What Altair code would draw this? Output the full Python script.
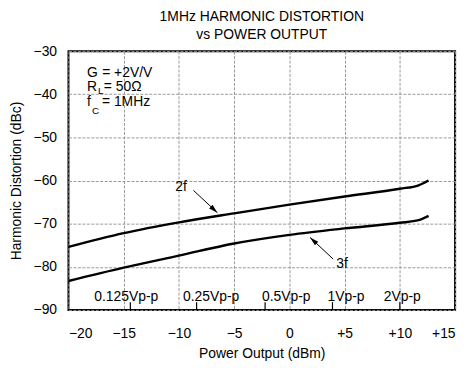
import altair as alt
import pandas as pd

# ---- data ----
power_dbm = [-20, -15, -10, -5, 0, 5, 10, 11.7, 12.6]
hd2_dbc = [-75.4, -72.2, -69.7, -67.6, -65.6, -63.7, -61.9, -61.1, -60.0]
hd3_dbc = [-83.3, -80.2, -77.4, -74.6, -72.6, -71.1, -69.8, -69.2, -68.2]

vpp_labels = ["0.125Vp-p", "0.25Vp-p", "0.5Vp-p", "1Vp-p", "2Vp-p"]
vpp_label_x = [-14.77, -7.09, -0.29, 5.13, 10.22]
vpp_tick_x = [-14.4, -8.4, -2.2, 3.9, 10.0]

x_ticks = [-20, -15, -10, -5, 0, 5, 10, 15]
y_ticks = [-30, -40, -50, -60, -70, -80, -90]

# annotation arrows: label, text pos, arrow start, arrow tip, head angle
ann_label = ["2f", "3f"]
ann_tx = [-9.81, 4.77]
ann_ty = [-61.5, -79.3]
arrow_x0 = [-8.69, 3.96]
arrow_y0 = [-62.27, -78.2]
arrow_x1 = [-6.52, 1.87]
arrow_y1 = [-67.45, -73.2]
arrow_angle = [132.9, 313.0]

# inset conditions text
inset_main = ["G", "= +2V/V", "R", "= 50Ω", "f", "= 1MHz"]
inset_main_x = [-18.32, -16.95, -18.32, -16.80, -18.32, -16.97]
inset_main_y = [-34.98, -34.98, -38.4, -38.4, -41.9, -41.9]
inset_sub = ["L", "C"]
inset_sub_x = [-17.33, -17.86]
inset_sub_y = [-39.3, -43.9]

FONT = "Liberation Sans"

curves = pd.DataFrame(
    {"x": power_dbm * 2,
     "y": hd2_dbc + hd3_dbc,
     "s": ["2f"] * len(power_dbm) + ["3f"] * len(power_dbm)}
)
vpp = pd.DataFrame({"label": vpp_labels, "lx": vpp_label_x, "tx": vpp_tick_x})
ann = pd.DataFrame({"label": ann_label, "tx": ann_tx, "ty": ann_ty,
                    "x0": arrow_x0, "y0": arrow_y0, "x1": arrow_x1,
                    "y1": arrow_y1, "ang": arrow_angle})
inset = pd.DataFrame({"t": inset_main, "x": inset_main_x, "y": inset_main_y})
inset_s = pd.DataFrame({"t": inset_sub, "x": inset_sub_x, "y": inset_sub_y})

xscale = alt.Scale(domain=[-20, 15], nice=False, zero=False)
yscale = alt.Scale(domain=[-90, -30], nice=False, zero=False)

xaxis = alt.Axis(
    values=x_ticks, title="Power Output (dBm)", grid=True, ticks=False,
    domain=False, labelPadding=17, titlePadding=6,
    labelExpr="datum.value > 0 ? '+' + datum.value : (datum.value < 0 ? '\u2212' + abs(datum.value) : '0')",
)
yaxis = alt.Axis(
    values=y_ticks, title="Harmonic Distortion (dBc)", grid=True, ticks=False,
    domain=False, labelPadding=12, titlePadding=10,
    labelExpr="'\u2212' + abs(datum.value)",
)

X = alt.X("x:Q", scale=xscale, axis=xaxis)
Y = alt.Y("y:Q", scale=yscale, axis=yaxis)

lines = alt.Chart(curves).mark_line(
    color="black", strokeWidth=2.4, interpolate="monotone"
).encode(x=X, y=Y, detail="s:N")

vpp_ticks = alt.Chart(vpp).mark_rule(color="black", strokeWidth=1.2).encode(
    x=alt.X("tx:Q", scale=xscale),
    y=alt.datum(-90), y2=alt.datum(-88.2),
)
vpp_text = alt.Chart(vpp).mark_text(
    font=FONT, fontSize=14, color="black", baseline="middle", align="center"
).encode(x=alt.X("lx:Q", scale=xscale), y=alt.datum(-87.0), text="label:N")

ann_text = alt.Chart(ann).mark_text(
    font=FONT, fontSize=14, color="black", baseline="middle", align="center"
).encode(x=alt.X("tx:Q", scale=xscale), y=alt.Y("ty:Q", scale=yscale), text="label:N")
ann_shaft = alt.Chart(ann).mark_rule(color="black", strokeWidth=1).encode(
    x=alt.X("x0:Q", scale=xscale), y=alt.Y("y0:Q", scale=yscale),
    x2="x1:Q", y2="y1:Q",
)
ann_head = alt.Chart(ann).mark_point(
    shape="M0,0L-0.5,1.8L0.5,1.8Z", filled=True, color="black", size=100, opacity=1
).encode(
    x=alt.X("x1:Q", scale=xscale), y=alt.Y("y1:Q", scale=yscale),
    angle=alt.Angle("ang:Q", scale=None),
)

inset_text = alt.Chart(inset).mark_text(
    font=FONT, fontSize=14, color="black", baseline="middle", align="left"
).encode(x=alt.X("x:Q", scale=xscale), y=alt.Y("y:Q", scale=yscale), text="t:N")
inset_sub_text = alt.Chart(inset_s).mark_text(
    font=FONT, fontSize=10, color="black", baseline="middle", align="left"
).encode(x=alt.X("x:Q", scale=xscale), y=alt.Y("y:Q", scale=yscale), text="t:N")

chart = alt.layer(
    lines, vpp_ticks, vpp_text, ann_shaft, ann_head, ann_text,
    inset_text, inset_sub_text,
).properties(
    width=390, height=261,
    autosize=alt.AutoSizeParams(type="none"),
    padding={"left": 61, "top": 42, "right": 10, "bottom": 50},
    background="white",
    title=alt.TitleParams(
        text=["1MHz HARMONIC DISTORTION", "vs POWER OUTPUT"],
        font=FONT, fontSize=14, fontWeight="normal", color="black",
        anchor="middle", lineHeight=18, offset=2,
    ),
).configure_view(
    stroke="black", strokeWidth=2
).configure_axis(
    labelFont=FONT, labelFontSize=14, labelColor="black",
    titleFont=FONT, titleFontSize=14, titleColor="black", titleFontWeight="normal",
    gridColor="#999999", gridDash=[3, 1.5], gridWidth=1,
)

chart.save("out.html", embed_options={"renderer": "svg", "actions": False})
